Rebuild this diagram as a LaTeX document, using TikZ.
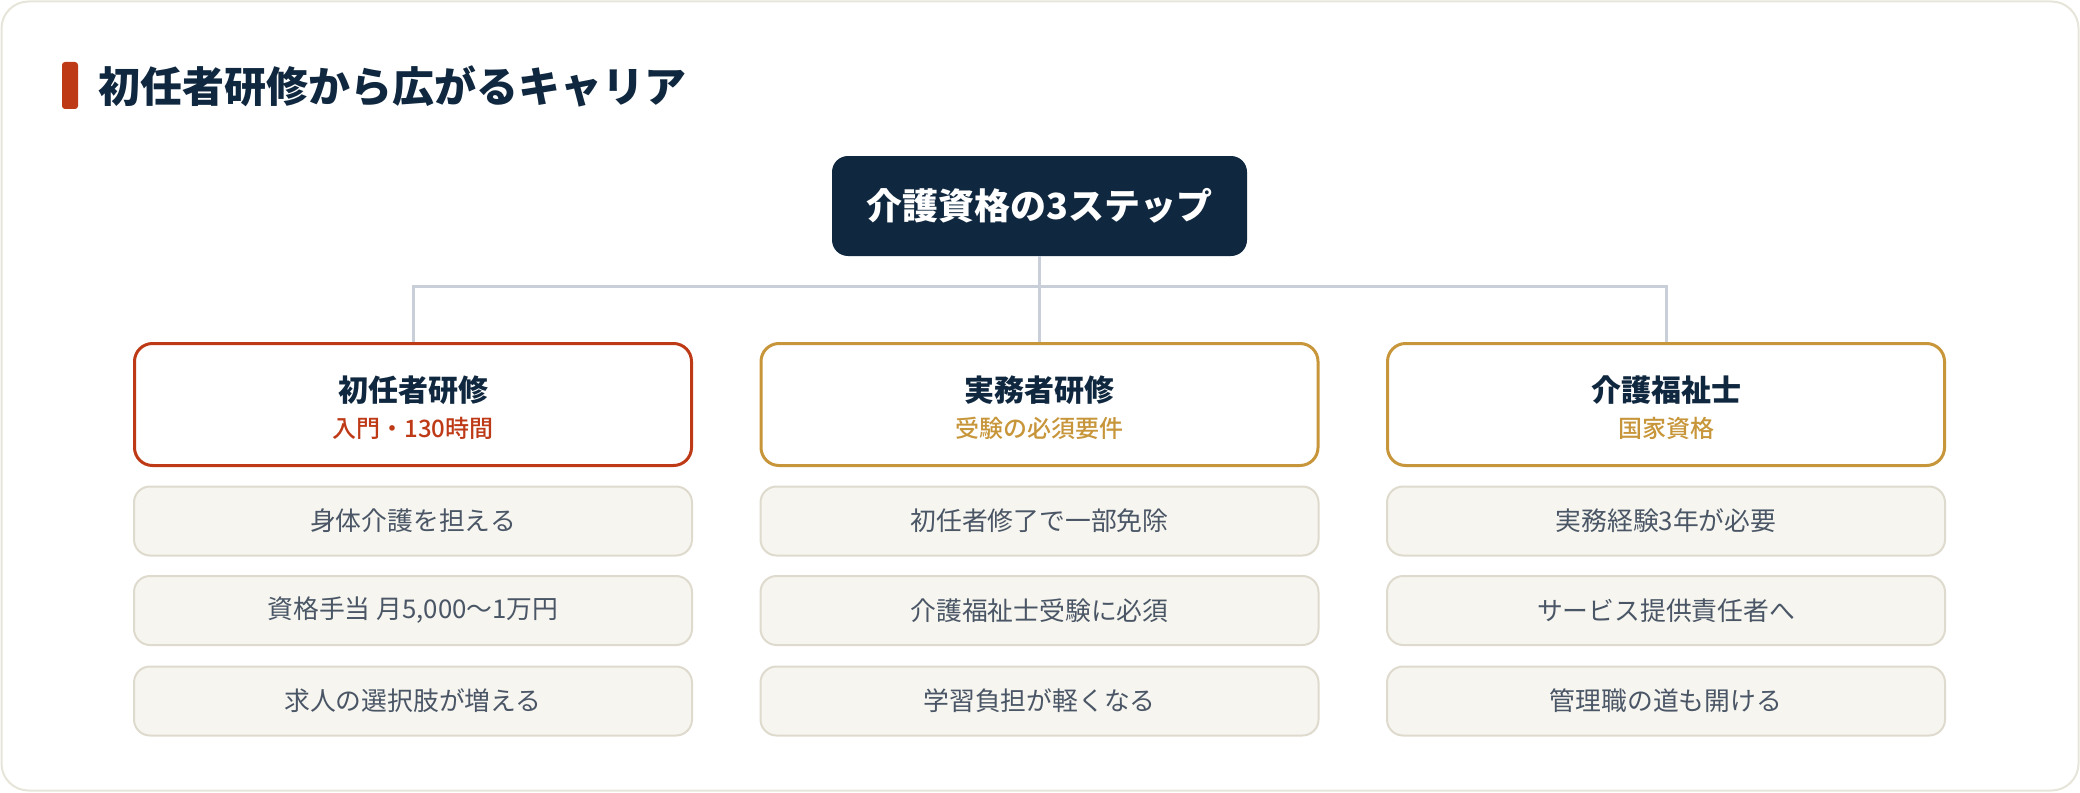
\documentclass[tikz,border=0pt]{standalone}
\usepackage{fontspec}
\setmainfont{Noto Sans CJK JP}
\newfontfamily\medio{Noto Sans CJK JP Medium}
\definecolor{marino}{HTML}{10283F}
\definecolor{rojo}{HTML}{BE3A17}
\definecolor{oro}{HTML}{C8963A}
\definecolor{gris}{HTML}{C9CFD8}
\definecolor{crema}{HTML}{F6F5EF}
\definecolor{borde}{HTML}{DEDACD}
\definecolor{pizarra}{HTML}{4A5666}
\definecolor{marco}{HTML}{E7E5DA}
\begin{document}
\begin{tikzpicture}[x=0.5pt, y=-0.5pt,
    raiz/.style={fill=marino, text=white, rounded corners=8pt, inner sep=0pt,
      minimum width=207.5pt, minimum height=50pt, font=\bfseries\fontsize{18pt}{18pt}\selectfont},
    cabecera/.style={fill=white, line width=1.5pt, rounded corners=9pt, inner sep=0pt,
      minimum width=278.5pt, minimum height=61pt},
    nombre/.style={text=marino, inner sep=0pt, font=\bfseries\fontsize{15pt}{15pt}\selectfont},
    detalle/.style={inner sep=0pt, font=\medio\fontsize{12pt}{12pt}\selectfont},
    punto/.style={fill=crema, draw=borde, line width=1pt, rounded corners=8pt, inner sep=0pt,
      minimum width=279pt, minimum height=34.5pt, text=pizarra,
      font=\fontsize{12.9pt}{12.9pt}\selectfont},
    linea/.style={draw=gris, line width=1.5pt}]
    % Marco exterior
    \useasboundingbox (0,0) rectangle (2080,792);
    \draw[marco, line width=1pt, rounded corners=13.5pt] (1.5,1.5) rectangle (2078.5,790.5);

    % Título
    \fill[rojo, rounded corners=1.5pt] (62,62) rectangle (78,109);
    \node[anchor=west, inner sep=0pt, text=marino, font=\bfseries\fontsize{21pt}{21pt}\selectfont]
      (titulo) at (98,86) {初任者研修から広がるキャリア};

    % Nodo raíz
    \node[raiz] (raiz) at (1039.5,206) {介護資格の3ステップ};

    % Columnas: cabecera y tres puntos
    \foreach \n/\cx/\col/\tit/\sub/\pa/\pb/\pc in {
      1/413/rojo/初任者研修/入門・130時間/身体介護を担える/{資格手当 月5,000〜1万円}/求人の選択肢が増える,
      2/1039.5/oro/実務者研修/受験の必須要件/初任者修了で一部免除/介護福祉士受験に必須/学習負担が軽くなる,
      3/1666/oro/介護福祉士/国家資格/実務経験3年が必要/サービス提供責任者へ/管理職の道も開ける}
    {
      \node[cabecera, draw=\col] (h\n) at (\cx,404.5) {};
      \node[nombre] (t\n) at (\cx,390) {\tit};
      \node[detalle, text=\col] (s\n) at (\cx,428) {\sub};
      \node[punto] (p\n-1) at (\cx,521) {\pa};
      \node[punto] (p\n-2) at (\cx,610.5) {\pb};
      \node[punto] (p\n-3) at (\cx,701) {\pc};
    }

    % Conectores
    \coordinate (bus) at (1039.5,286);
    \draw[linea] (raiz) -- (bus);
    \foreach \n in {1,2,3}
      \draw[linea] (bus) -| (h\n);
  \end{tikzpicture}
\end{document}
